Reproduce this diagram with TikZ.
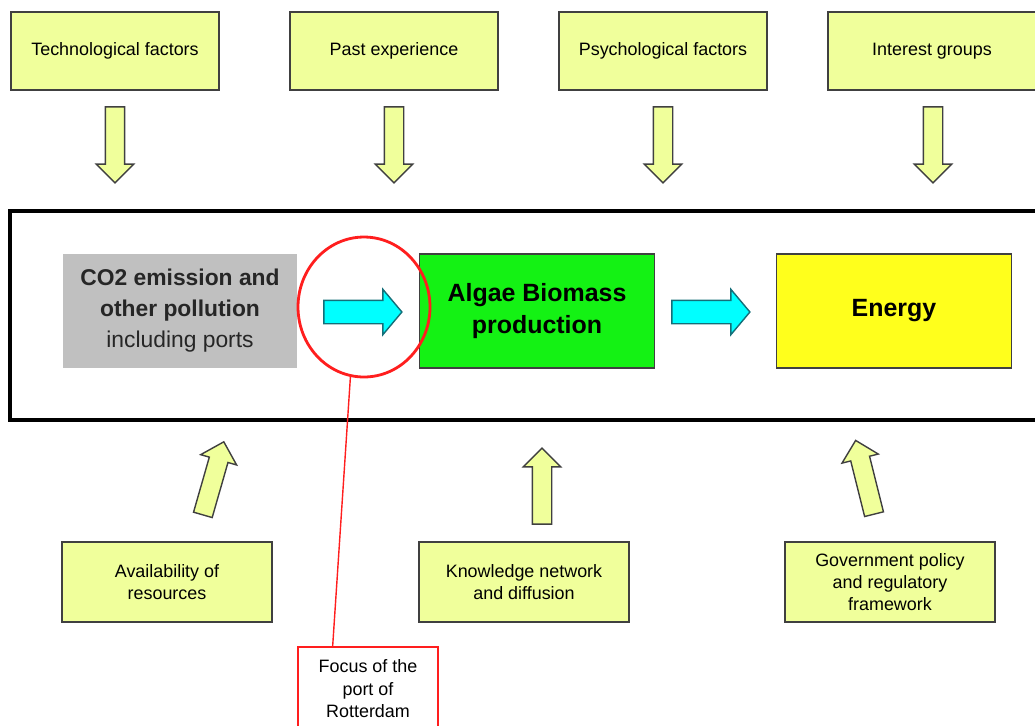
\documentclass[tikz,border=0pt]{standalone}
\usepackage{fontspec}
\setmainfont{Liberation Sans}
\usetikzlibrary{calc}
\usetikzlibrary{shapes.arrows,shapes.geometric}
\definecolor{factor}{RGB}{240,255,155}
\definecolor{edge}{RGB}{64,64,64}
\definecolor{pollution}{RGB}{192,192,192}
\definecolor{algaegreen}{RGB}{20,242,20}
\definecolor{energyyellow}{RGB}{255,255,28}
\definecolor{flow}{RGB}{0,255,255}
\definecolor{flowedge}{RGB}{20,110,120}
\definecolor{focusred}{RGB}{255,30,30}
\tikzset{
  factorbox/.style={draw=edge, line width=1pt, fill=factor, minimum width=4.16cm,
    minimum height=1.56cm, align=center, font=\fontsize{10.2}{12.6}\selectfont},
  chainbox/.style={draw=edge, line width=0.8pt, minimum width=4.7cm, minimum height=2.28cm,
    align=center},
  fatarrow/.style={single arrow, draw=edge, line width=0.8pt, fill=factor, inner xsep=0pt,
    inner ysep=0.18cm, minimum height=1.52cm, single arrow head extend=0.18cm,
    single arrow tip angle=90},
  flowarrow/.style={single arrow, draw=flowedge, line width=0.8pt, fill=flow, inner xsep=0pt,
    inner ysep=0.22cm, minimum height=1.56cm, single arrow head extend=0.22cm,
    single arrow tip angle=100}
}

\begin{document}
\begin{tikzpicture}[x=0.02cm,y=-0.02cm]
	\useasboundingbox (0,0) rectangle (1035,725);
	\clip (0,0) rectangle (1035,725);
	\draw [line width=1.8pt] (10,211) rectangle (1050,420);
	\node [factorbox] (tech) at (115,51) {Technological factors};
	\node [factorbox] (past) at (394,51) {Past experience};
	\node [factorbox] (psych) at (663,51) {Psychological factors};
	\node [factorbox] (interest) at (932,51) {Interest groups};
	\node [fatarrow, rotate=-90] (techarr) at (115,140) {};
	\node [fatarrow, rotate=-90] (pastarr) at (394,140) {};
	\node [fatarrow, rotate=-90] (psycharr) at (663,140) {};
	\node [fatarrow, rotate=-90] (interestarr) at (933,140) {};
	\node [chainbox, fill=pollution, draw=none, text=black!85, font=\fontsize{13}{17.6}\selectfont]
		(co2) at (180,311) {{\bfseries CO2 emission and}\\{\bfseries other pollution}\\including ports};
	\node [chainbox, fill=algaegreen, font=\fontsize{14.2}{18.2}\selectfont\bfseries]
		(algae) at (537,311) {Algae Biomass\\production};
	\node [chainbox, fill=energyyellow, font=\fontsize{14.2}{18.2}\selectfont\bfseries]
		(energy) at (894,311) {Energy};
	\node [flowarrow] (co2flow) at (358,312) {};
	\node [flowarrow] (algaeflow) at (706,312) {};
	\node [draw=focusred, line width=1.6pt, ellipse, minimum width=2.64cm, minimum height=2.8cm]
		(focus) at (364,307) {};
	\node [draw=focusred, line width=0.8pt, minimum width=2.8cm, minimum height=1.68cm, align=center,
		font=\fontsize{10.2}{12.8}\selectfont] (callout) at (368,689) {Focus of the\\port of\\Rotterdam};
	\draw [focusred, line width=0.8pt] (focus.259) -- ($(callout.north west)!0.25!(callout.north east)$);
	\node [factorbox, minimum width=4.2cm, minimum height=1.6cm] (avail) at (167,582) {Availability of\\resources};
	\node [factorbox, minimum width=4.2cm, minimum height=1.6cm] (know) at (524,582) {Knowledge network\\and diffusion};
	\node [factorbox, minimum width=4.2cm, minimum height=1.6cm] (gov) at (890,582) {Government policy\\and regulatory\\framework};
	\node [fatarrow, rotate=74] (availarr) at (212,483) {};
	\node [fatarrow, rotate=90] (knowarr) at (542,491) {};
	\node [fatarrow, rotate=104] (govarr) at (866,482) {};
\end{tikzpicture}
\end{document}
